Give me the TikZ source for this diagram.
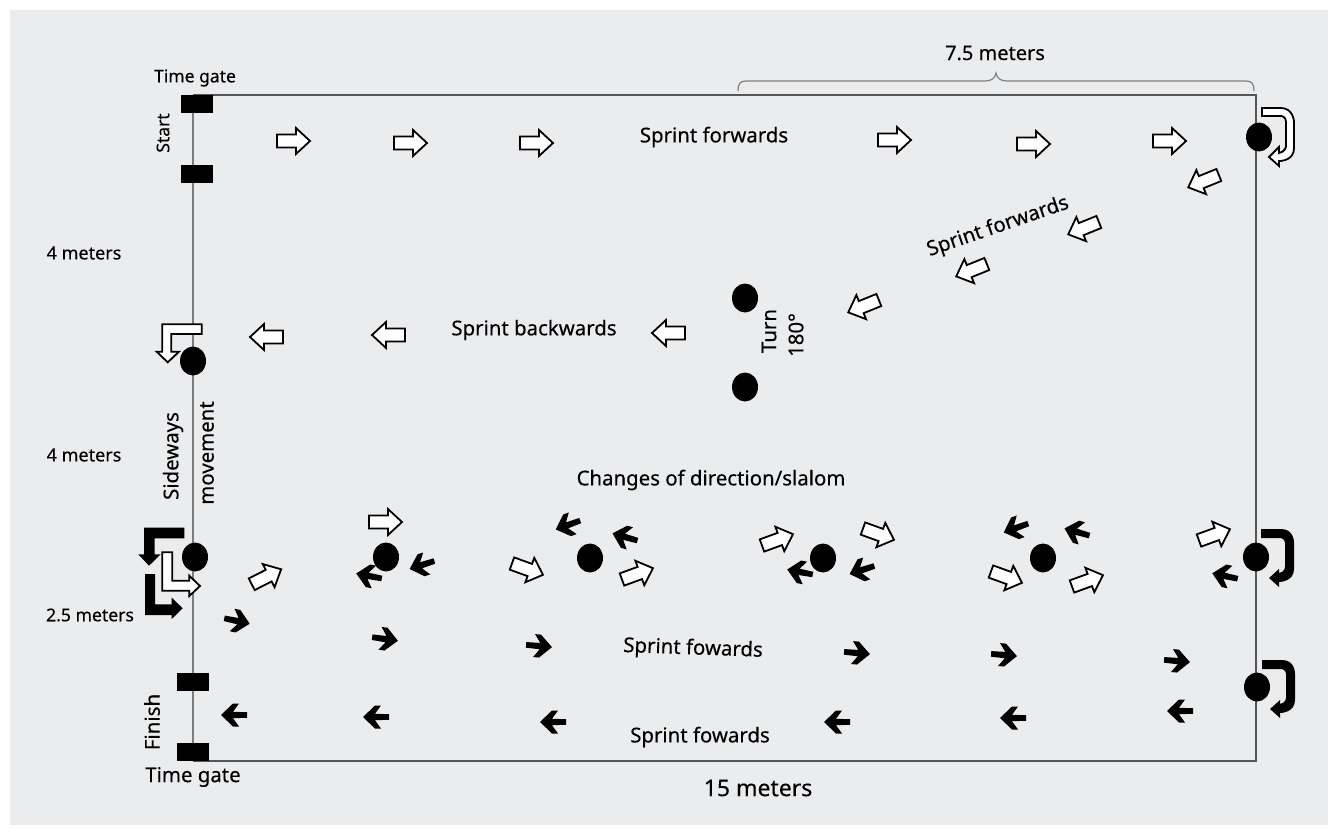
\documentclass[tikz,border=0pt]{standalone}
\usepackage{fontspec}
\setmainfont[FakeBold=0.25]{Noto Sans}
\usetikzlibrary{shapes.geometric}
\definecolor{panel}{RGB}{235,236,238}
\definecolor{frameline}{RGB}{85,85,85}
\definecolor{leftline}{RGB}{125,125,125}
\tikzset{
  x=1pt,y=-1pt,
  disc/.style={ellipse,fill=black,minimum width=26pt,minimum height=29pt,inner sep=0pt},
  gate/.style={rectangle,fill=black,minimum width=32pt,minimum height=18pt,inner sep=0pt},
  lab/.style={font=\fontsize{20.4}{24}\selectfont,inner sep=0pt,text=black},
  wfill/.style={fill=white,draw=black,line width=1.8pt,line join=miter},
  bfill/.style={fill=black},
  pics/warrow/.style={code={
    \path[wfill] (-16,-6.5)--(3,-6.5)--(3,-13)--(17,0)--(3,13)--(3,6.5)--(-16,6.5)--cycle;}},
  pics/barrow/.style={code={
    \path[bfill] (-13,-2.8)--(1,-3.2)--(-5,-11.5)--(1,-11.5)--(13,0)--(1,11.5)--(-5,11.5)--(1,3.2)--(-13,2.8)--cycle;}},
  pics/uturn/.style={code={
    \path[#1] (0,0)--(19,0) .. controls (31,0) and (32,13) .. (32,14)--(32,40) .. controls (32,52) and (20,53) .. (17,53)--(17,58)--(7,49)--(17,39)--(17,45) .. controls (23,44) and (24,39) .. (24,38)--(24,14) .. controls (24,9) and (20,8) .. (19,8)--(0,8)--cycle;}},
  pics/uturnb/.style={code={
    \path[bfill] (0,0)--(20,0) .. controls (33,0) and (33,13) .. (33,14)--(33,40) .. controls (33,52) and (20,53) .. (18,53)--(18,58)--(8,49)--(18,40)--(18,44) .. controls (24,43) and (24,38) .. (24,37)--(24,14) .. controls (24,10) and (20,9) .. (19,9)--(0,9)--cycle;}},
}
\begin{document}
\begin{tikzpicture}
\path[use as bounding box,fill=white] (0,0) rectangle (1338,827);
\fill[panel] (10,10) rectangle (1328,825);

% frame
\coordinate (tl) at (193,95);
\coordinate (tr) at (1256,95);
\coordinate (br) at (1256,761);
\coordinate (bl) at (193,761);
\draw[frameline,line width=1.8pt] (tl)--(tr)--(br)--(bl);
\draw[leftline,line width=2pt] (bl)--(tl);

% brace
\draw[gray,line width=1.2pt] (738,91) .. controls (738,84) and (740,81) .. (746,81) -- (985,81) .. controls (992,81) and (995,78) .. (996,73) .. controls (997,78) and (1000,81) .. (1007,81) -- (1246,81) .. controls (1252,81) and (1254,84) .. (1254,91);

% gates
\node[gate] (g1) at (197,103.5) {};
\node[gate] (g2) at (197,173.5) {};
\node[gate] (g3) at (193,682) {};
\node[gate] (g4) at (193,752) {};

% discs
\node[disc] (d1) at (1259,137) {};
\node[disc] (d2) at (745,298) {};
\node[disc] (d3) at (745,387) {};
\node[disc] (d4) at (193,361) {};
\node[disc] (d5) at (195,557) {};
\node[disc] (d6) at (386,557) {};
\node[disc] (d7) at (590,558) {};
\node[disc] (d8) at (823,558) {};
\node[disc] (d9) at (1043,558) {};
\node[disc] (d10) at (1256,557) {};
\node[disc] (d11) at (1257,687) {};

% white arrows: x/y/clockwise angle
\foreach \px/\py/\a in {293/141/0,410/143/0,536/143/0,894/140/0,1033/144/0,1169/141/0,
  1204/181/158,1084/228/158,972/270/158,864/306/158,
  267/337/180,389/335/180,669/333/180,
  266/577/-27,385/522/0,527/569/20,637/574/-20,777/540/-20,878/534/20,1006/577/20,1087/581/-20,1214/535/-20}
  \pic[rotate=-\a,scale=1] at (\px,\py) {warrow};

% black arrows
\foreach \px/\py/\a in {369/576/191,422/565/162,568/525/160,625/537/196,800/572/191,862/570/162,1016/528/160,1077/532/196,1225/576/192,
  237/621/12,385/639/8,539/646/5,857/653/5,1004/655/5,1177/661/5,
  234/715/180,376/717/180,553/722/180,837/722/180,1013/718/180,1180/711/180}
  \pic[rotate=-\a] at (\px,\py) {barrow};

% bent arrows
\path[wfill] (201.7,324.3)--(162.3,324.3)--(162.3,351.7)--(156.7,351.7)--(167.7,362.3)--(179,351.7)--(171.3,351.7)--(171.3,334)--(201.7,334)--cycle;
\path[bfill] (184.3,527.7)--(144,527.7)--(144,554.3)--(138.3,554.3)--(149,565.7)--(160.7,554.3)--(154.7,554.3)--(154.7,538.3)--(184.3,538.3)--cycle;
\path[bfill] (145,574)--(155,574)--(155,604.3)--(171.7,604.3)--(171.7,597.7)--(182.7,608.3)--(171.7,619)--(171.7,615)--(145,615)--cycle;
\path[wfill] (162.3,552.3)--(172.3,552.3)--(172.3,580.7)--(189.3,580.7)--(189.3,575.7)--(200,586)--(189.3,596)--(189.3,590.7)--(162.3,590.7)--cycle;

% u-turn arrows
\pic at (1262,108) {uturn=wfill};
\pic at (1261,529) {uturnb};
\pic at (1262,660) {uturnb};

% labels
\node[lab,font=\fontsize{17.5}{20}\selectfont] (t1) at (195,78) {Time gate};
\node[lab,font=\fontsize{17.5}{20}\selectfont,rotate=90] (t2) at (163,133) {Start};
\node[lab,font=\fontsize{18}{20}\selectfont] (t3) at (84,253) {4 meters};
\node[lab,font=\fontsize{18}{20}\selectfont] (t4) at (84,455) {4 meters};
\node[lab,font=\fontsize{17.6}{20}\selectfont] (t5) at (90,615) {2.5 meters};
\node[lab,font=\fontsize{20.5}{24}\selectfont,rotate=90] (t6) at (152,722) {Finish};
\node[lab] (t7) at (193,777) {Time gate};
\node[lab,font=\fontsize{23}{27}\selectfont] (t8) at (758,788) {15 meters};
\node[lab,font=\fontsize{20}{24}\selectfont] (t9) at (995,53) {7.5 meters};
\node[lab] (t10) at (714,137) {Sprint forwards};
\node[lab,rotate=19] (t11) at (998,227) {Sprint forwards};
\node[lab] (t12) at (534,330) {Sprint backwards};
\node[lab,rotate=90] (t13) at (769,331) {Turn};
\node[lab,rotate=90] (t14) at (796,335) {180°};
\node[lab,rotate=90] (t15) at (173,456) {Sideways};
\node[lab,rotate=90] (t16) at (207,453) {movement};
\node[lab] (t17) at (711,480) {Changes of direction/slalom};
\node[lab,rotate=-2] (t18) at (693,649) {Sprint fowards};
\node[lab] (t19) at (700,737) {Sprint fowards};
\end{tikzpicture}
\end{document}
